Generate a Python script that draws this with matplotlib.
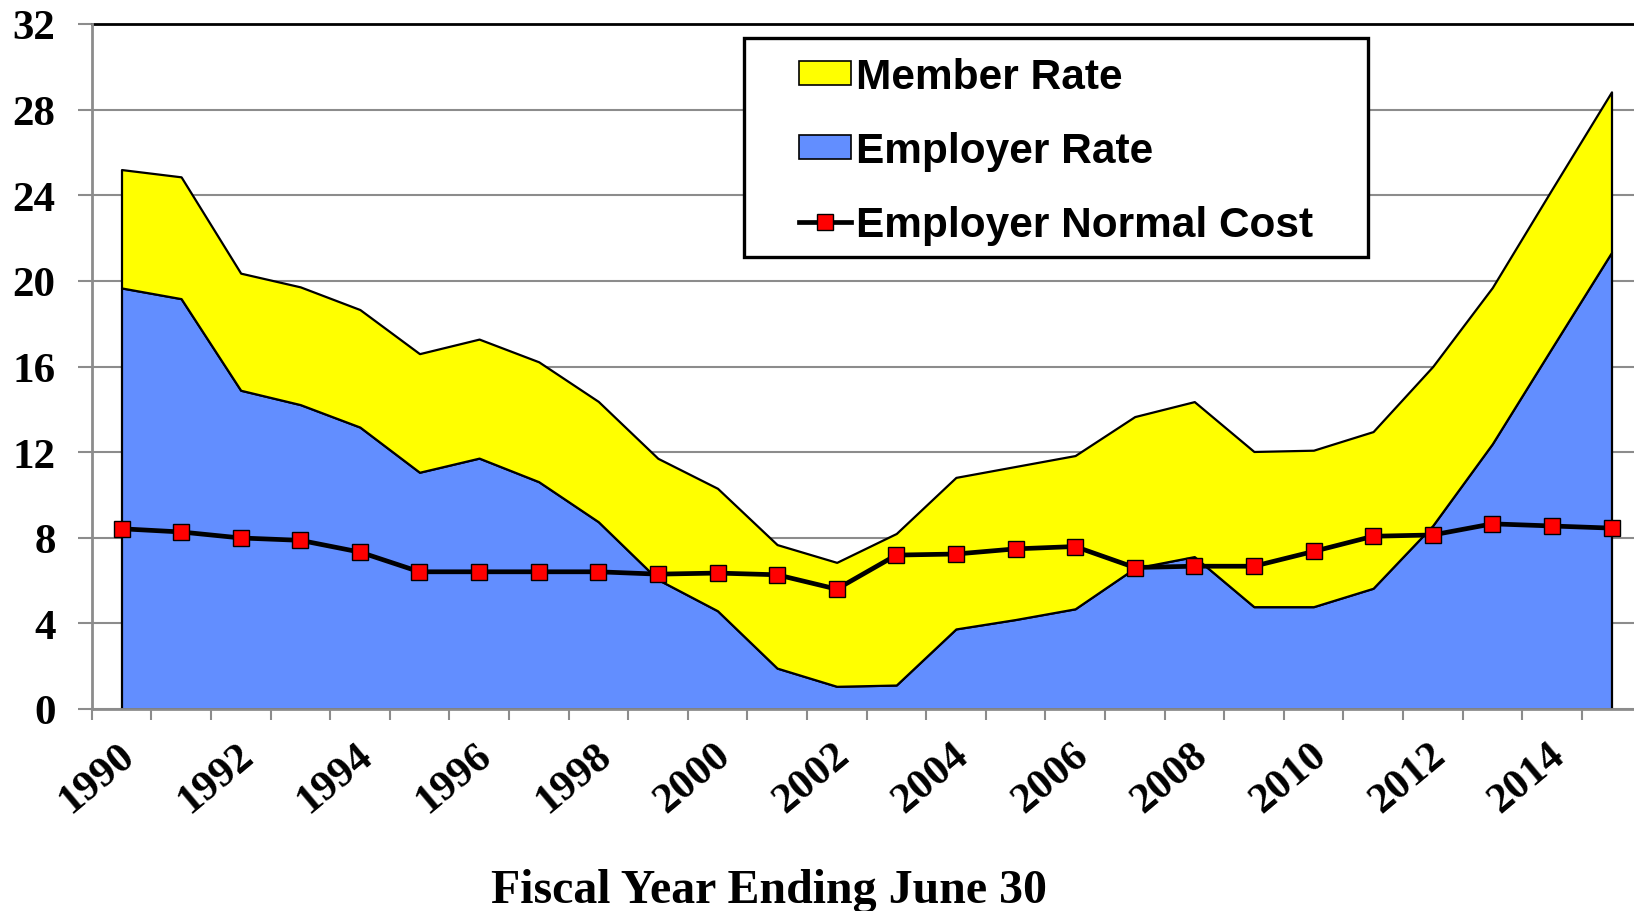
import numpy as np
import matplotlib
matplotlib.use('Agg')
import matplotlib.pyplot as plt
import matplotlib.transforms as mtransforms
from matplotlib.lines import Line2D
from matplotlib.patches import Patch, Rectangle

# ---- data ----
years = list(range(1990, 2016))
employer_rate = [19.67, 19.17, 14.89, 14.22, 13.17, 11.06, 11.72, 10.62, 8.75, 6.05,
                 4.59, 1.91, 1.06, 1.12, 3.74, 4.18, 4.68, 6.58, 7.12, 4.78,
                 4.78, 5.64, 8.57, 12.39, 16.87, 21.33]
member_rate = [5.53, 5.69, 5.47, 5.50, 5.49, 5.54, 5.56, 5.60, 5.62, 5.66,
               5.72, 5.77, 5.79, 7.08, 7.08, 7.15, 7.16, 7.08, 7.24, 7.25,
               7.31, 7.32, 7.43, 7.30, 7.41, 7.50]
normal_cost = [8.42, 8.27, 7.99, 7.88, 7.33, 6.41, 6.41, 6.41, 6.41, 6.30,
               6.35, 6.27, 5.60, 7.19, 7.24, 7.48, 7.59, 6.61, 6.67, 6.67,
               7.36, 8.07, 8.13, 8.65, 8.55, 8.45]
year_labels = [str(y) for y in years[::2]]
y_ticks = [0, 4, 8, 12, 16, 20, 24, 28, 32]
series_names = ["Member Rate", "Employer Rate", "Employer Normal Cost"]
x_title = "Fiscal Year Ending June 30"

# ---- style ----
YELLOW = "#FFFF00"
BLUE = "#628EFF"
GRID = "#8C8C8C"
SERIF = ["Liberation Serif", "DejaVu Serif"]
SANS = ["Liberation Sans", "DejaVu Sans"]

W_PX, H_PX = 1634, 912
fig = plt.figure(figsize=(W_PX / 100, H_PX / 100), dpi=100)
ax_left, ax_right, ax_top, ax_bot = 91.7, 1641.3, 25.0, 710.0
ax = fig.add_axes([ax_left / W_PX, 1 - ax_bot / H_PX,
                   (ax_right - ax_left) / W_PX, (ax_bot - ax_top) / H_PX])

x = np.arange(len(years)) + 0.5
emp = np.array(employer_rate)
tot = emp + np.array(member_rate)

ax.fill_between(x, 0, emp, facecolor=BLUE, edgecolor="black", linewidth=1.6, zorder=2)
ax.fill_between(x, emp, tot, facecolor=YELLOW, edgecolor="black", linewidth=1.6, zorder=2)
ax.plot(x, normal_cost, color="black", linewidth=3.4, marker="s", markersize=11,
        markerfacecolor="#FF0000", markeredgecolor="black", markeredgewidth=1.0, zorder=3)

ax.set_xlim(0, len(years))
ax.set_ylim(0, 32)

ax.set_yticks(y_ticks)
ax.set_yticklabels([str(v) for v in y_ticks], fontfamily=SERIF, fontweight="bold", fontsize=31)
ax.tick_params(axis="y", direction="out", length=10, width=1.5, color=GRID, pad=16)

ax.set_xticks(np.arange(0, len(years) + 1))
ax.set_xticklabels([])
ax.tick_params(axis="x", which="major", direction="out", length=8, width=1.5, color=GRID)

# rotated year labels at category centres
lab_trans = mtransforms.blended_transform_factory(ax.transData, ax.transAxes) + \
    mtransforms.ScaledTranslation(-2.9 / 72, -19.0 / 72, fig.dpi_scale_trans)
for xi, lab in zip(x[::2], year_labels):
    ax.text(xi, 0, lab, transform=lab_trans, rotation=40, rotation_mode="anchor",
            ha="right", va="top", fontfamily=SERIF, fontweight="bold", fontsize=31,
            clip_on=False)

ax.yaxis.grid(True, color=GRID, linewidth=1.5, zorder=0)
ax.set_axisbelow(True)
for side in ["left", "bottom", "right"]:
    ax.spines[side].set_color(GRID)
    ax.spines[side].set_linewidth(2)
    ax.spines[side].set_zorder(4)
ax.spines["top"].set_color("black")
ax.spines["top"].set_linewidth(2)

# legend
frame = Rectangle((744 / W_PX, 1 - 257.5 / H_PX), 624 / W_PX, 218.9 / H_PX,
                  transform=fig.transFigure, facecolor="white", edgecolor="black",
                  linewidth=2.4, zorder=6)
ax.add_patch(frame)
frame.set_clip_on(False)
handles = [Patch(facecolor=YELLOW, edgecolor="black", linewidth=1.2),
           Patch(facecolor=BLUE, edgecolor="black", linewidth=1.2),
           Line2D([0], [0], color="black", linewidth=3.4, marker="s", markersize=11,
                  markerfacecolor="#FF0000", markeredgecolor="black", markeredgewidth=1.0)]
leg = ax.legend(handles, series_names, loc="center left",
                bbox_to_anchor=(799 / W_PX, 1 - 152 / H_PX), bbox_transform=fig.transFigure,
                frameon=False, borderpad=0, borderaxespad=0, handlelength=1.23,
                handleheight=0.5, handletextpad=0.12, labelspacing=0.8,
                prop={"family": SANS, "weight": "bold", "size": 30.5})
leg.set_zorder(7)

fig.text(768.6 / W_PX, 1 - 902.6 / H_PX, x_title, ha="center", va="baseline",
         fontfamily=SERIF, fontweight="bold", fontsize=34.5)

fig.savefig("out.png", dpi=100)
